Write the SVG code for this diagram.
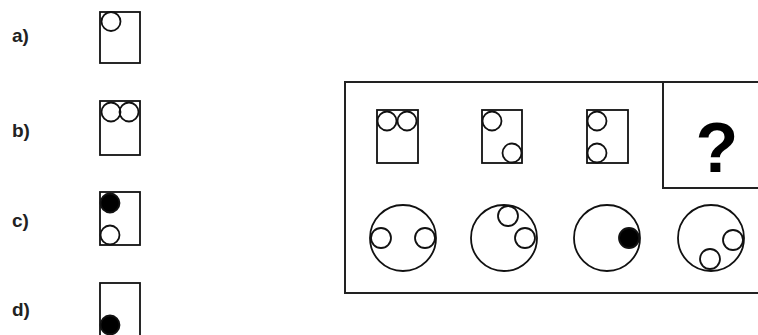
<svg xmlns="http://www.w3.org/2000/svg" width="758" height="335" viewBox="0 0 758 335">
<style>
.ln{fill:none;stroke:#111;stroke-width:1.8}
.fr{fill:none;stroke:#222;stroke-width:2}
.dot{fill:#000;stroke:#111;stroke-width:1.8}
.lbl{font-family:"Liberation Sans",Arial,sans-serif;font-weight:bold;font-size:19px;fill:#222}
.q{font-family:"Liberation Sans",Arial,sans-serif;font-weight:bold;font-size:70px;fill:#000}
</style>
<rect width="758" height="335" fill="#fff"/>
<g id="opt-a">
<text class="lbl" x="12" y="42">a)</text>
<rect class="ln" x="100" y="12" width="40" height="51"/>
<circle class="ln" cx="111" cy="21.5" r="9.5"/>
</g>
<g id="opt-b">
<text class="lbl" x="12" y="137">b)</text>
<rect class="ln" x="100" y="101" width="40" height="54"/>
<circle class="ln" cx="111" cy="112" r="9.5"/>
<circle class="ln" cx="129" cy="112" r="9.5"/>
</g>
<g id="opt-c">
<text class="lbl" x="12" y="227">c)</text>
<rect class="ln" x="100" y="192" width="40" height="53"/>
<circle class="dot" cx="110" cy="203" r="9.5"/>
<circle class="ln" cx="110" cy="235" r="9.5"/>
</g>
<g id="opt-d">
<text class="lbl" x="12" y="316">d)</text>
<rect class="ln" x="100" y="283" width="40" height="60"/>
<circle class="dot" cx="110" cy="325" r="9.5"/>
</g>
<g id="frame">
<path class="fr" d="M760 82 H345 V293 H760"/>
<path class="fr" d="M663 82 V188 H760"/>
</g>
<g id="top-1">
<rect class="ln" x="377" y="110" width="41" height="53"/>
<circle class="ln" cx="387" cy="121" r="9.5"/>
<circle class="ln" cx="407" cy="121" r="9.5"/>
</g>
<g id="top-2">
<rect class="ln" x="482" y="110" width="40" height="53"/>
<circle class="ln" cx="492" cy="121" r="9.5"/>
<circle class="ln" cx="512" cy="153" r="9.5"/>
</g>
<g id="top-3">
<rect class="ln" x="587" y="110" width="41" height="53"/>
<circle class="ln" cx="597" cy="121" r="9.5"/>
<circle class="ln" cx="597" cy="153" r="9.5"/>
</g>
<g id="question">
<text class="q" x="717" y="172" text-anchor="middle">?</text>
</g>
<g id="bot-1">
<circle class="ln" cx="403" cy="238" r="33"/>
<circle class="ln" cx="381" cy="238" r="10"/>
<circle class="ln" cx="425" cy="238" r="10"/>
</g>
<g id="bot-2">
<circle class="ln" cx="504" cy="238" r="33"/>
<circle class="ln" cx="508" cy="216" r="10"/>
<circle class="ln" cx="525" cy="238" r="10"/>
</g>
<g id="bot-3">
<circle class="ln" cx="607" cy="238" r="33"/>
<circle class="dot" cx="629" cy="238" r="10"/>
</g>
<g id="bot-4">
<circle class="ln" cx="711" cy="238" r="33"/>
<circle class="ln" cx="733" cy="240" r="10"/>
<circle class="ln" cx="710" cy="259" r="10"/>
</g>
</svg>
